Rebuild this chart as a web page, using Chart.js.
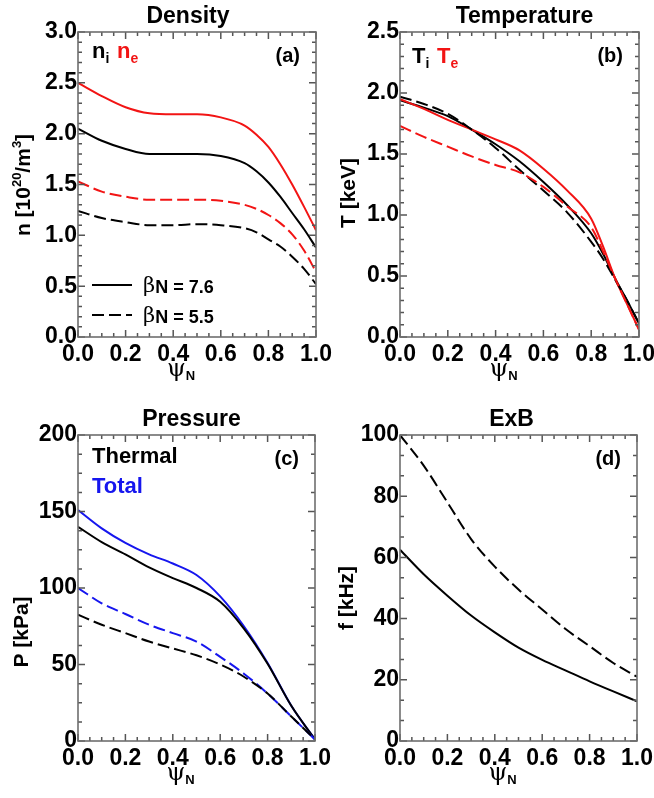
<!DOCTYPE html>
<html><head><meta charset="utf-8">
<script src="https://cdn.jsdelivr.net/npm/chart.js@4.4.1/dist/chart.umd.min.js"></script>
<style>
html,body{margin:0;padding:0;background:#fff;overflow:hidden;width:654px;height:798px}
.wrap{position:absolute;left:0;top:0;width:680px;height:798px}
canvas{display:block}
</style></head><body>
<div class="wrap"><canvas id="ca" width="680" height="798"></canvas></div>
<div class="wrap"><canvas id="cb" width="680" height="798"></canvas></div>
<div class="wrap"><canvas id="cc" width="680" height="798"></canvas></div>
<div class="wrap"><canvas id="cd" width="680" height="798"></canvas></div>
<script>
// ---- Data ----
// Panel (a) Density [10^20/m^3]
const psiA   = [0, 0.1, 0.2, 0.3, 0.4, 0.5, 0.6, 0.7, 0.75, 0.8, 0.85, 0.9, 0.95, 1.0];
const niHigh = [2.05, 1.93, 1.85, 1.80, 1.80, 1.80, 1.78, 1.71, 1.63, 1.52, 1.38, 1.22, 1.06, 0.88];
const neHigh = [2.50, 2.37, 2.26, 2.20, 2.19, 2.19, 2.16, 2.08, 1.99, 1.87, 1.70, 1.50, 1.28, 1.05];
const niLow  = [1.24, 1.17, 1.13, 1.10, 1.10, 1.11, 1.10, 1.07, 1.03, 0.96, 0.89, 0.79, 0.67, 0.52];
const neLow  = [1.53, 1.43, 1.38, 1.35, 1.35, 1.35, 1.34, 1.30, 1.26, 1.20, 1.12, 1.01, 0.85, 0.64];

// Panel (b) Temperature [keV]
const psiB   = [0, 0.1, 0.2, 0.3, 0.4, 0.5, 0.6, 0.7, 0.8, 0.85, 0.9, 0.95, 1.0];
const tiHigh = [1.94, 1.88, 1.81, 1.70, 1.58, 1.44, 1.27, 1.08, 0.85, 0.68, 0.48, 0.30, 0.11];
const teHigh = [1.95, 1.87, 1.78, 1.70, 1.62, 1.53, 1.38, 1.20, 0.97, 0.74, 0.48, 0.27, 0.06];
const tiLow  = [1.97, 1.91, 1.83, 1.70, 1.55, 1.37, 1.20, 1.02, 0.78, 0.64, 0.47, 0.30, 0.11];
const teLow  = [1.73, 1.64, 1.56, 1.48, 1.41, 1.35, 1.23, 1.07, 0.90, 0.70, 0.48, 0.27, 0.06];

// Panel (c) Pressure [kPa]
const psiC      = [0, 0.1, 0.2, 0.3, 0.4, 0.5, 0.6, 0.7, 0.8, 0.9, 1.0];
const pthHigh   = [140, 130, 122, 113.5, 106.5, 100, 91, 73.5, 50.5, 23, 1];
const ptotHigh  = [151, 139, 129.5, 122, 116, 108.5, 94.5, 75, 51, 23, 1];
const pthLow    = [82.5, 76, 70.5, 65, 60.5, 56, 50, 42, 31, 16, 1];
const ptotLow   = [100, 90, 83, 76, 70.5, 65, 55, 44, 31, 16, 1];

// Panel (d) ExB frequency [kHz]
const psiD   = [0, 0.1, 0.2, 0.3, 0.4, 0.5, 0.6, 0.7, 0.8, 0.9, 1.0];
const fHigh  = [62.5, 54.5, 47.5, 41, 35.5, 30.5, 26.5, 23, 19.5, 16.2, 13];
const fLow   = [100, 90, 78, 66, 57, 49.5, 43, 36.5, 31, 25.5, 21];

// Tick labels
const xTicks = [0, 0.2, 0.4, 0.6, 0.8, 1.0];
const legendLabels = ['7.6', '5.5'];

// ---- Drawing ----
const SANS = '"Liberation Sans", Arial, Helvetica, sans-serif';
const SERIF = '"DejaVu Serif", serif';
const RED = '#f21414', BLUE = '#1616ee', BLACK = '#000';
const DASH = [12, 5];
const CW = 680, CH = 798, YW = 70, XH = 34;

function fnt(size, bold = true, fam = SANS) { return (bold ? 'bold ' : '') + size + 'px ' + fam; }

function drawRich(ctx, x, y, parts, align) {
  let w = 0;
  parts.forEach(p => { ctx.font = p.f; p.w = ctx.measureText(p.t).width; w += p.w; });
  let cx = align === 'center' ? x - w / 2 : align === 'right' ? x - w : x;
  ctx.textAlign = 'left'; ctx.textBaseline = 'alphabetic';
  parts.forEach(p => { ctx.font = p.f; ctx.fillStyle = p.c || BLACK; ctx.fillText(p.t, cx, y + (p.dy || 0)); cx += p.w; });
}

function toPts(xs, ys) { return xs.map((x, i) => ({ x: x, y: ys[i] })); }

function ds(xs, ys, color, dashed) {
  return { data: toPts(xs, ys), borderColor: color, borderWidth: 2, borderDash: dashed ? DASH : [],
           pointRadius: 0, fill: false, cubicInterpolationMode: 'monotone' };
}

const decor = {
  id: 'decor',
  afterDraw(chart) {
    const cfg = chart.options.plugins.decor;
    const ctx = chart.ctx, a = chart.chartArea;
    const xs = chart.scales.x, ys = chart.scales.y;
    ctx.save();
    // inward ticks on all four sides
    ctx.strokeStyle = '#555'; ctx.lineWidth = 1.5;
    for (let i = 0; i <= 20; i++) {
      const v = i * 0.05;
      const px = xs.getPixelForValue(v);
      const len = (i % 4 === 0) ? 7 : 4;
      ctx.beginPath();
      ctx.moveTo(px, a.bottom); ctx.lineTo(px, a.bottom - len);
      ctx.moveTo(px, a.top); ctx.lineTo(px, a.top + len);
      ctx.stroke();
    }
    const nMin = Math.round((cfg.max - cfg.min) / cfg.minor);
    const per = Math.round(cfg.step / cfg.minor);
    for (let i = 0; i <= nMin; i++) {
      const v = cfg.min + i * cfg.minor;
      const py = ys.getPixelForValue(v);
      const len = (i % per === 0) ? 7 : 4;
      ctx.beginPath();
      ctx.moveTo(a.left, py); ctx.lineTo(a.left + len, py);
      ctx.moveTo(a.right, py); ctx.lineTo(a.right - len, py);
      ctx.stroke();
    }
    // frame
    ctx.strokeStyle = '#6e6e6e'; ctx.lineWidth = 1.6;
    ctx.strokeRect(a.left, a.top, a.right - a.left, a.bottom - a.top);

    // title
    ctx.fillStyle = BLACK; ctx.font = fnt(23); ctx.textAlign = 'center'; ctx.textBaseline = 'alphabetic';
    ctx.fillText(cfg.title, (a.left + a.right) / 2 + cfg.titleDx, a.top - 9);
    // panel letter
    ctx.font = fnt(20); ctx.textAlign = 'right';
    ctx.fillText(cfg.letter, a.right - 16, a.top + 30);
    // x title psi_N
    drawRich(ctx, (a.left + a.right) / 2 - 16, a.bottom + 39, [
      { t: 'ψ', f: fnt(24, false, SERIF) },
      { t: 'N', f: fnt(13), dy: 4 }
    ], 'center');
    // y title (rotated)
    ctx.save();
    ctx.translate(cfg.yTitleX, cfg.yTitleY);
    ctx.rotate(-Math.PI / 2);
    drawRich(ctx, 0, 0, cfg.yTitle, 'center');
    ctx.restore();
    // in-plot annotations
    (cfg.notes || []).forEach(n => drawRich(ctx, a.left + n.x, a.top + n.y, n.parts, 'left'));
    // line legend
    if (cfg.legend) {
      cfg.legend.forEach((lg, i) => {
        const y = a.bottom - 52 + i * 30;
        ctx.strokeStyle = BLACK; ctx.lineWidth = 2; ctx.setLineDash(lg.dash);
        ctx.beginPath(); ctx.moveTo(a.left + 14, y); ctx.lineTo(a.left + 54, y); ctx.stroke();
        ctx.setLineDash([]);
        drawRich(ctx, a.left + 65, y + 7, [
          { t: 'β', f: fnt(21, false, SERIF) },
          { t: 'N = ' + lg.label, f: fnt(18), dy: 1 }
        ], 'left');
      });
    }
    ctx.restore();
  }
};

function makePanel(id, area, ycfg, datasets, deco) {
  deco.min = ycfg.min; deco.max = ycfg.max; deco.step = ycfg.step; deco.minor = ycfg.minor;
  const tickFont = { family: SANS, size: 23, weight: 'bold' };
  new Chart(document.getElementById(id), {
    type: 'line',
    data: { datasets: datasets },
    plugins: [decor],
    options: {
      responsive: false, animation: false, devicePixelRatio: 1,
      layout: { padding: { left: area.L - YW, top: area.T, right: CW - area.R, bottom: CH - area.B - XH } },
      plugins: { legend: { display: false }, tooltip: { enabled: false }, title: { display: false }, decor: deco },
      scales: {
        x: {
          type: 'linear', min: 0, max: 1,
          afterFit(s) { s.height = XH; },
          afterBuildTicks(s) { s.ticks = xTicks.map(v => ({ value: v })); },
          grid: { display: false, drawTicks: false }, border: { display: false },
          ticks: { font: tickFont, color: BLACK, padding: 4, maxRotation: 0, autoSkip: false,
                   callback: v => Number(v).toFixed(1) }
        },
        y: {
          type: 'linear', min: ycfg.min, max: ycfg.max,
          afterFit(s) { s.width = YW; },
          grid: { display: false, drawTicks: false }, border: { display: false },
          ticks: { font: tickFont, color: BLACK, padding: 1, stepSize: ycfg.step, autoSkip: false,
                   callback: v => Number(v).toFixed(ycfg.dec) }
        }
      }
    }
  });
}

const sub = (t, c) => ({ t: t, f: fnt(14), dy: 5, c: c });

makePanel('ca', { L: 78, T: 32, R: 316, B: 337 }, { min: 0, max: 3, step: 0.5, minor: 0.1, dec: 1 },
  [ds(psiA, neHigh, RED, false), ds(psiA, niHigh, BLACK, false), ds(psiA, neLow, RED, true), ds(psiA, niLow, BLACK, true)],
  { title: 'Density', titleDx: -9, letter: '(a)', yTitleX: 30, yTitleY: 185,
    yTitle: [{ t: 'n [10', f: fnt(21) }, { t: '20', f: fnt(13), dy: -9 }, { t: '/m', f: fnt(21) }, { t: '3', f: fnt(13), dy: -9 }, { t: ']', f: fnt(21) }],
    notes: [{ x: 14, y: 26, parts: [{ t: 'n', f: fnt(22) }, sub('i'), { t: '  ', f: fnt(14) }, { t: 'n', f: fnt(22), c: RED }, sub('e', RED)] }],
    legend: [{ dash: [], label: legendLabels[0] }, { dash: DASH, label: legendLabels[1] }] });

makePanel('cb', { L: 400, T: 32, R: 639, B: 337 }, { min: 0, max: 2.5, step: 0.5, minor: 0.1, dec: 1 },
  [ds(psiB, teLow, RED, true), ds(psiB, tiLow, BLACK, true), ds(psiB, teHigh, RED, false), ds(psiB, tiHigh, BLACK, false)],
  { title: 'Temperature', titleDx: 5, letter: '(b)', yTitleX: 355, yTitleY: 193,
    yTitle: [{ t: 'T [keV]', f: fnt(21) }],
    notes: [{ x: 12, y: 31, parts: [{ t: 'T', f: fnt(22) }, sub('i'), { t: '  ', f: fnt(14) }, { t: 'T', f: fnt(22), c: RED }, sub('e', RED)] }] });

makePanel('cc', { L: 78, T: 435, R: 315, B: 741 }, { min: 0, max: 200, step: 50, minor: 12.5, dec: 0 },
  [ds(psiC, pthLow, BLACK, true), ds(psiC, ptotLow, BLUE, true), ds(psiC, pthHigh, BLACK, false), ds(psiC, ptotHigh, BLUE, false)],
  { title: 'Pressure', titleDx: -5, letter: '(c)', yTitleX: 28, yTitleY: 632,
    yTitle: [{ t: 'P [kPa]', f: fnt(21) }],
    notes: [{ x: 14, y: 28, parts: [{ t: 'Thermal', f: fnt(22) }] }, { x: 14, y: 58, parts: [{ t: 'Total', f: fnt(22), c: BLUE }] }] });

makePanel('cd', { L: 400, T: 435, R: 637, B: 741 }, { min: 0, max: 100, step: 20, minor: 20 / 3, dec: 0 },
  [ds(psiD, fLow, BLACK, true), ds(psiD, fHigh, BLACK, false)],
  { title: 'ExB', titleDx: -7, letter: '(d)', yTitleX: 353, yTitleY: 598,
    yTitle: [{ t: 'f [kHz]', f: fnt(21) }] });
</script>
</body></html>
